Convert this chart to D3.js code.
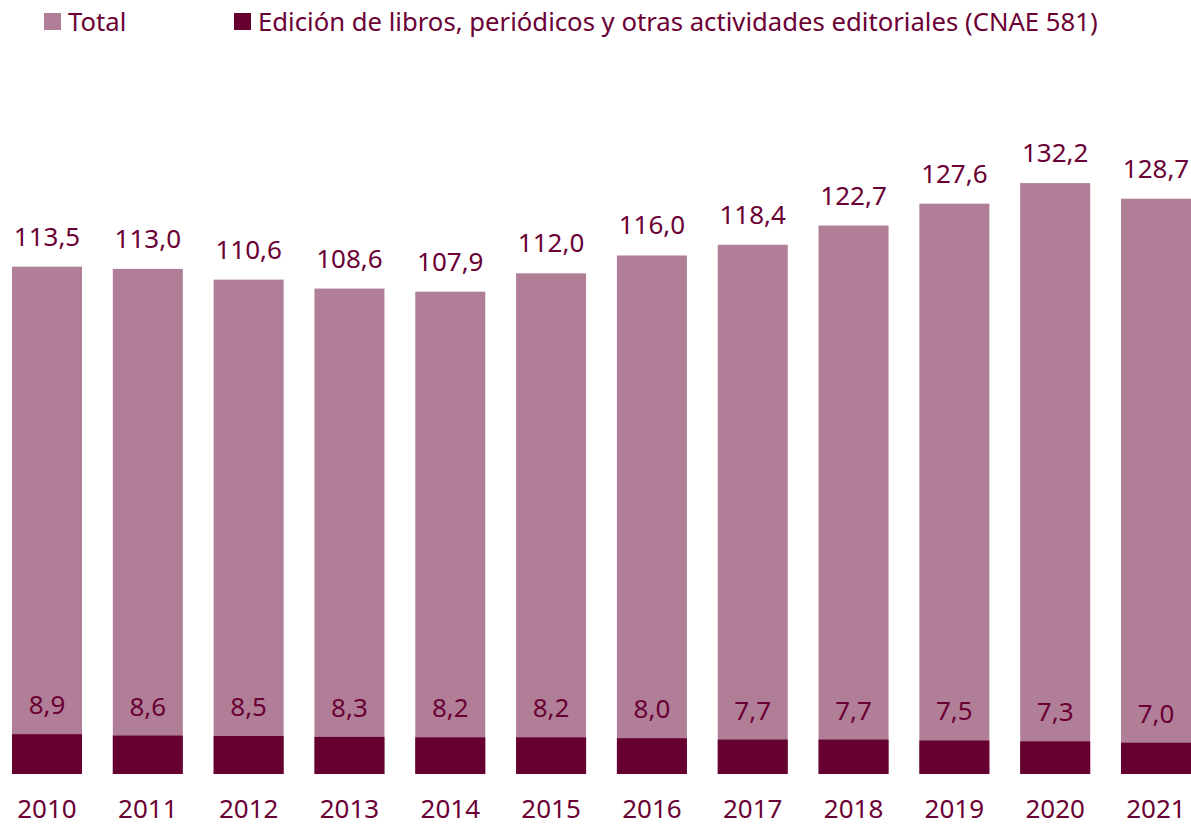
<!DOCTYPE html>
<html><head><meta charset="utf-8">
<script src="https://cdn.jsdelivr.net/npm/d3@7"></script>
<style>body{margin:0;background:#fff;} svg{display:block;}</style>
</head><body>
<svg id="chart" width="1191" height="825"></svg>
<script>
const years = ["2010","2011","2012","2013","2014","2015","2016","2017","2018","2019","2020","2021"];
const totalValues = [113.5,113.0,110.6,108.6,107.9,112.0,116.0,118.4,122.7,127.6,132.2,128.7];
const cnaeValues = [8.9,8.6,8.5,8.3,8.2,8.2,8.0,7.7,7.7,7.5,7.3,7.0];
const seriesNames = ["Total","Edición de libros, periódicos y otras actividades editoriales (CNAE 581)"];

const colTotal = "#B07F97", colCnae = "#650031", textCol = "#6B0035";
const font = "'Noto Sans', sans-serif";
const svg = d3.select("#chart");
const fmt = v => d3.format(".1f")(v).replace(".", ",");

const step = (1191 - 12 - 70) / 11;
const x = d3.scaleBand().domain(years)
  .range([12 - (step - 70) / 2, 1191 + (step - 70) / 2])
  .paddingInner((step - 70) / step).paddingOuter((step - 70) / step / 2);
const y = d3.scaleLinear().domain([0, 140]).range([774, 774 - 4.47 * 140]);

const g = svg.append("g");
g.selectAll("rect.total").data(years).join("rect").attr("class","total")
  .attr("x", d => x(d)).attr("width", x.bandwidth())
  .attr("y", (d,i) => y(totalValues[i])).attr("height", (d,i) => y(0) - y(totalValues[i]))
  .attr("fill", colTotal);
g.selectAll("rect.cnae").data(years).join("rect").attr("class","cnae")
  .attr("x", d => x(d)).attr("width", x.bandwidth())
  .attr("y", (d,i) => y(cnaeValues[i])).attr("height", (d,i) => y(0) - y(cnaeValues[i]))
  .attr("fill", colCnae);

const fs = 26;
g.selectAll("text.tl").data(years).join("text").attr("class","tl")
  .attr("x", d => x(d) + x.bandwidth()/2).attr("y", (d,i) => y(totalValues[i]) - 21)
  .attr("text-anchor","middle").attr("font-family",font).attr("font-size",fs).attr("fill",textCol)
  .text((d,i) => fmt(totalValues[i]));
g.selectAll("text.cl").data(years).join("text").attr("class","cl")
  .attr("x", d => x(d) + x.bandwidth()/2).attr("y", (d,i) => y(cnaeValues[i]) - 20)
  .attr("text-anchor","middle").attr("font-family",font).attr("font-size",fs).attr("fill",textCol)
  .text((d,i) => fmt(cnaeValues[i]));

const xAxis = d3.axisBottom(x).tickSize(0).tickPadding(0);
const ax = svg.append("g").attr("transform", `translate(0,${y(0)})`).call(xAxis);
ax.select(".domain").remove();
ax.selectAll("text").attr("font-family",font).attr("font-size",fs).attr("fill",textCol)
  .attr("dy", null).attr("y", 44);

// legend
const legX = [44, 234];
const leg = svg.append("g");
seriesNames.forEach((n, i) => {
  leg.append("rect").attr("x", legX[i]).attr("y", 13).attr("width", 17).attr("height", 17)
    .attr("fill", i === 0 ? colTotal : colCnae);
  leg.append("text").attr("x", legX[i] + 24).attr("y", 31).attr("font-family",font)
    .attr("font-size",25.7).attr("fill",textCol).text(n);
});
</script>
</body></html>
